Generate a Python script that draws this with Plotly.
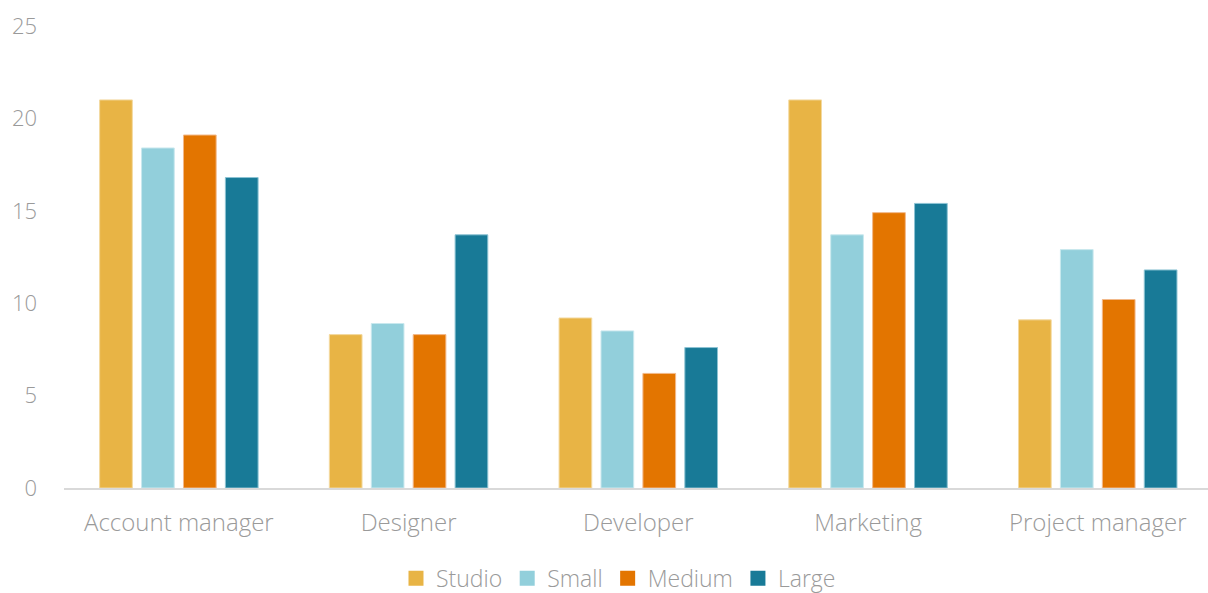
import plotly.graph_objects as go

roles = ["Account manager", "Designer", "Developer", "Marketing", "Project manager"]

studio = [21.0, 8.3, 9.2, 21.0, 9.1]
small = [18.4, 8.9, 8.5, 13.7, 12.9]
medium = [19.1, 8.3, 6.2, 14.9, 10.2]
large = [16.8, 13.7, 7.6, 15.4, 11.8]

series = [
    ("Studio", studio, "#E8B445", "#F3D9A0"),
    ("Small", small, "#92CFDB", "#C9E8EE"),
    ("Medium", medium, "#E37500", "#F2B98A"),
    ("Large", large, "#187A97", "#8CC3D3"),
]

font_family = "Open Sans"
grey = "#9a9a9a"

fig = go.Figure()
for name, vals, color, edge in series:
    fig.add_trace(go.Bar(
        name=name, x=roles, y=vals, showlegend=False,
        marker=dict(color=color, line=dict(color=edge, width=1)),
    ))
# square legend keys
for name, vals, color, edge in series:
    fig.add_trace(go.Scatter(
        name=name, x=[None], y=[None], mode="markers",
        marker=dict(symbol="square", size=15, color=color),
        showlegend=True, hoverinfo="skip",
    ))

fig.update_layout(
    width=1208, height=593,
    margin=dict(l=64, r=0, t=26, b=105, autoexpand=False),
    paper_bgcolor="white", plot_bgcolor="white",
    barmode="group", bargap=0.27, bargroupgap=0.22,
    font=dict(family=font_family, color=grey, size=23, weight=300),
    showlegend=True,
    legend=dict(
        orientation="h", xref="container", x=0.512, xanchor="center",
        yref="container", y=0.025, yanchor="middle",
        font=dict(family=font_family, size=23, color=grey, weight=300),
        itemwidth=30, tracegroupgap=0,
    ),
    xaxis=dict(
        range=[-0.5, 4.48], showgrid=False, showline=True,
        linecolor="#d9d9d9", linewidth=2, ticks="",
        tickfont=dict(family=font_family, size=24, color=grey, weight=300),
        ticklabelstandoff=12,
    ),
    yaxis=dict(
        range=[0, 25], dtick=5, showgrid=False, zeroline=False,
        showline=False, ticks="",
        tickfont=dict(family=font_family, size=22, color=grey, weight=300),
        ticklabelstandoff=26,
    ),
)

fig.write_html("out.html")
